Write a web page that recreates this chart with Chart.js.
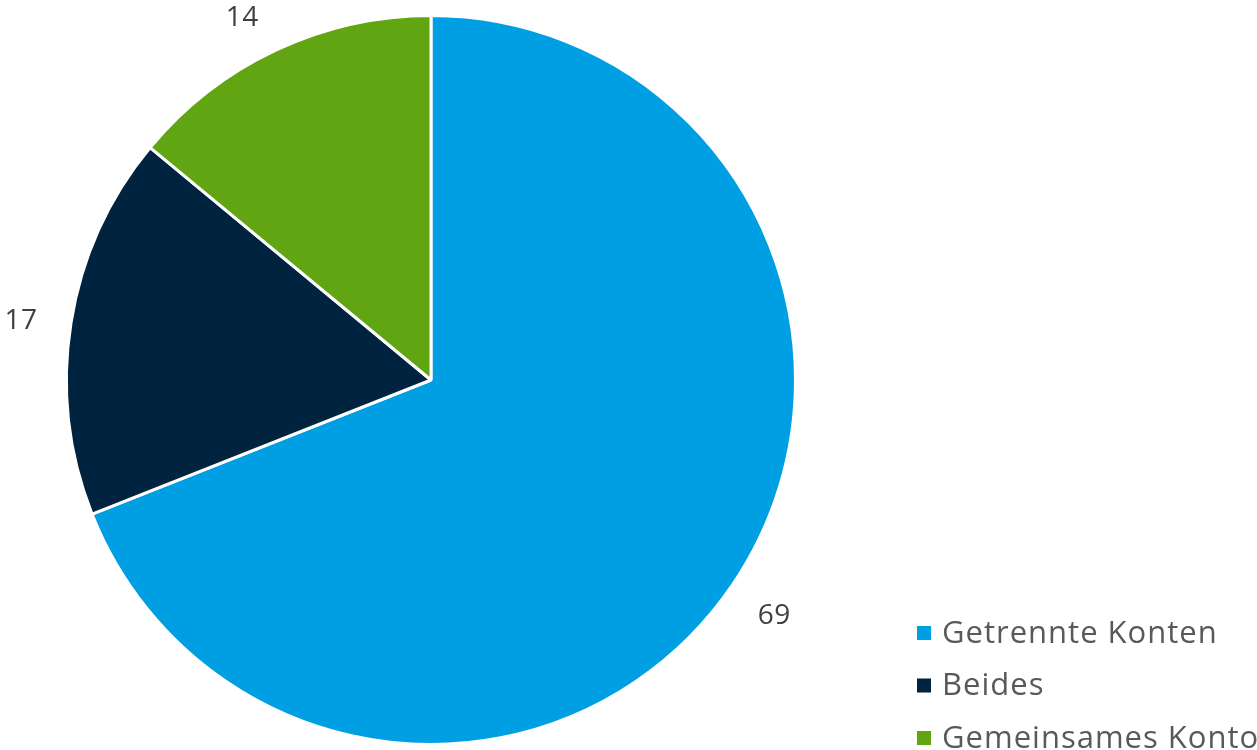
<!DOCTYPE html>
<html>
<head>
<meta charset="utf-8">
<script src="https://cdn.jsdelivr.net/npm/chart.js@4"></script>
<style>
  html, body { margin: 0; padding: 0; background: #fff; }
  #wrap { width: 1257px; height: 750px; position: relative; }
</style>
</head>
<body>
<div id="wrap"><canvas id="piechart"></canvas></div>
<script>
const categories = ['Getrennte Konten', 'Beides', 'Gemeinsames Konto'];
const shares = [69, 17, 14];
const sliceColors = ['#009FE3', '#00233F', '#62A513'];

// value labels just outside each slice, custom legend bottom right
const labelsPlugin = {
    id: 'outerLabels',
    afterDatasetsDraw(chart) {
        const ctx = chart.ctx;
        const arcs = chart.getDatasetMeta(0).data;
        ctx.save();
        ctx.font = '28px "Open Sans"';
        ctx.letterSpacing = '0.5px';
        ctx.fillStyle = '#404040';
        ctx.textAlign = 'center';
        ctx.textBaseline = 'middle';
        arcs.forEach((arc, i) => {
            const mid = (arc.startAngle + arc.endAngle) / 2;
            const txt = String(shares[i]);
            const w = ctx.measureText(txt).width, h = 26;
            const r = arc.outerRadius + 34;
            let x = arc.x + Math.cos(mid) * r + Math.cos(mid) * w / 2;
            let y = arc.y + Math.sin(mid) * r + Math.sin(mid) * h / 2 + 5;
            y = Math.max(y, 18);
            if (y < 40) x -= 12;
            ctx.fillText(txt, x, y);
        });

        ctx.font = '31px "Open Sans"';
        ctx.letterSpacing = '1px';
        ctx.textAlign = 'left';
        categories.forEach((name, i) => {
            const y = 633 + i * 52.5;
            ctx.fillStyle = sliceColors[i];
            ctx.fillRect(917, y - 7, 14, 14);
            ctx.fillStyle = '#595959';
            ctx.fillText(name, 942, y + 1);
        });
        ctx.restore();
    }
};

const ctx = document.getElementById('piechart').getContext('2d');
const piechart = new Chart(ctx, {
    type: 'pie',
    data: {
        labels: categories,
        datasets: [{
            data: shares,
            backgroundColor: sliceColors,
            borderColor: '#FFFFFF',
            borderWidth: 3
        }]
    },
    options: {
        responsive: true,
        maintainAspectRatio: false,
        animation: false,
        layout: {
            padding: { left: 65, right: 460, top: 14, bottom: 4 }
        },
        plugins: {
            legend: { display: false },
            tooltip: { enabled: false }
        }
    },
    plugins: [labelsPlugin]
});
</script>
</body>
</html>
